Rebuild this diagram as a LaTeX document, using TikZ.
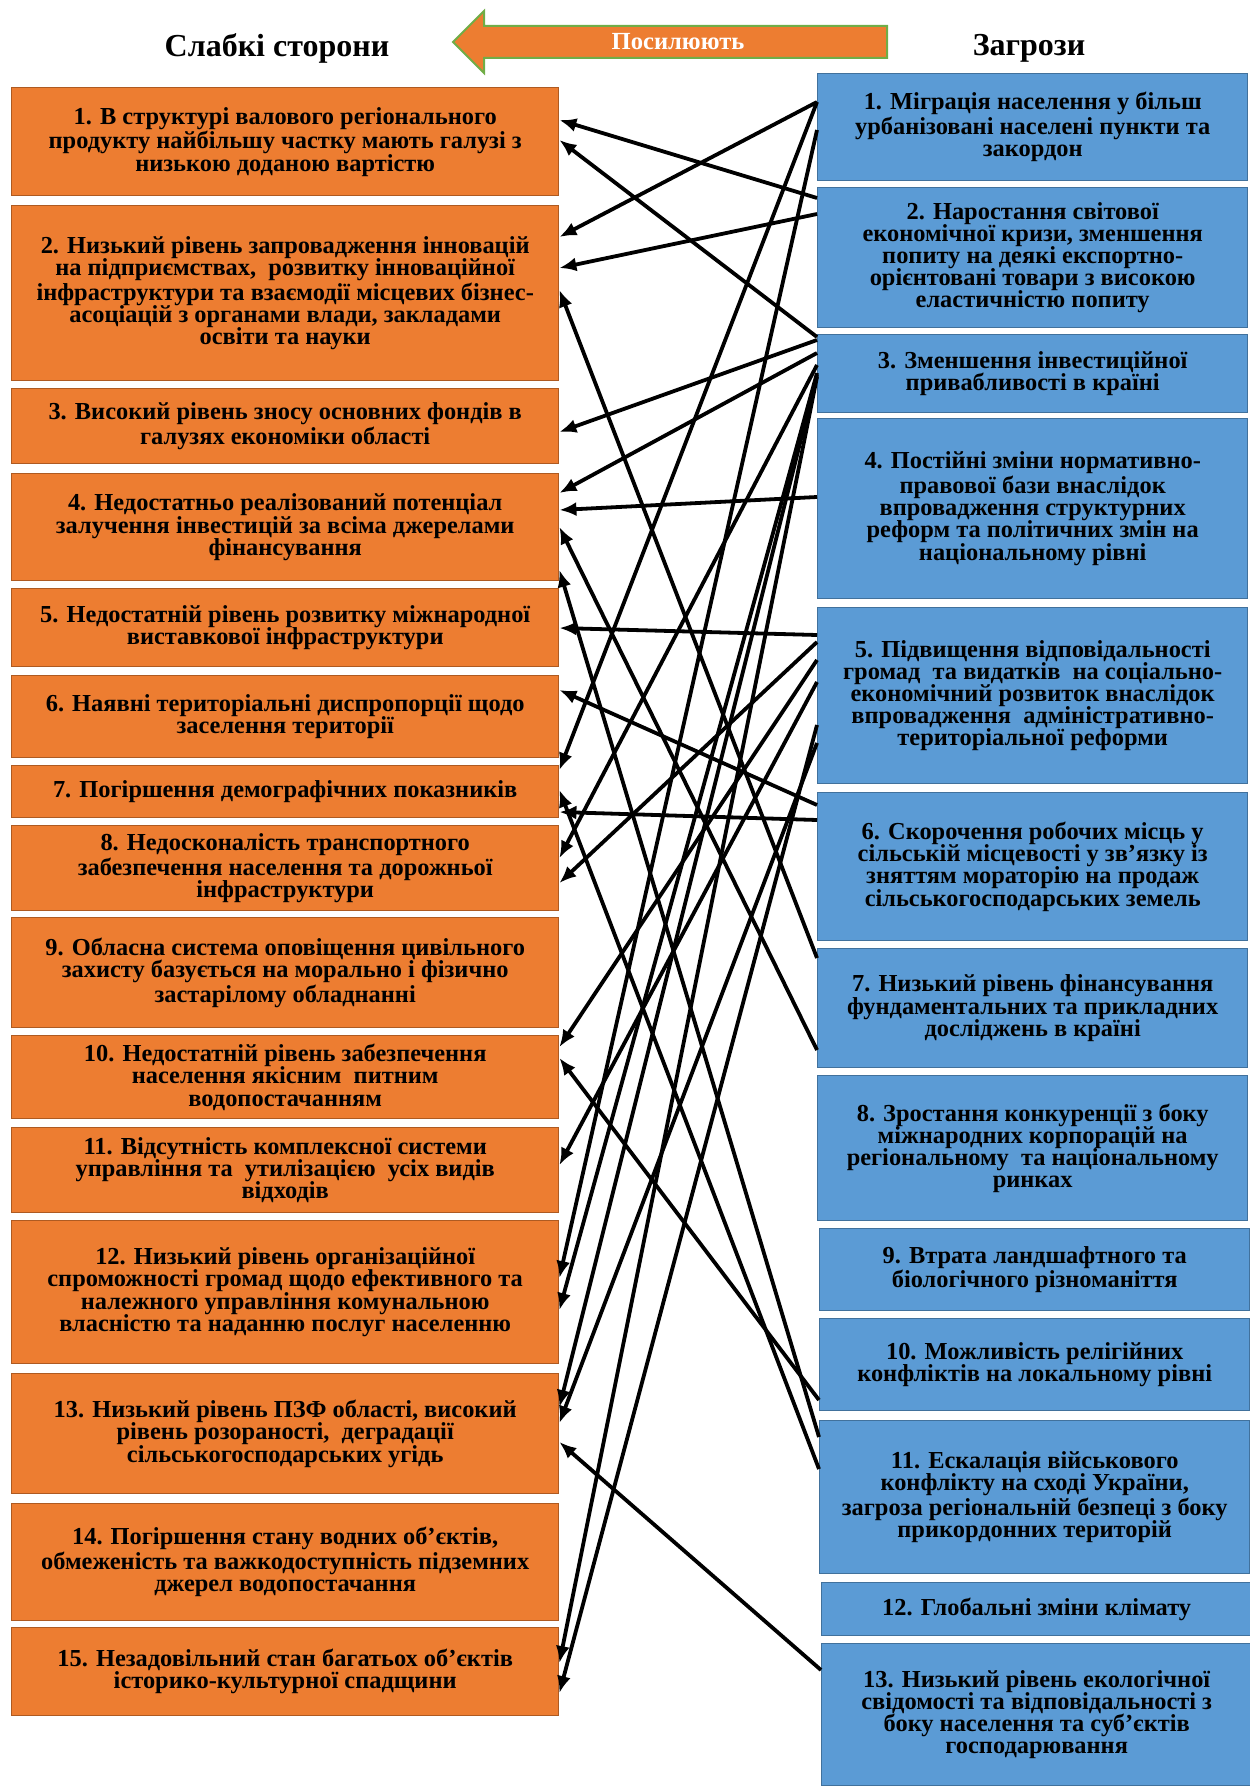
\documentclass[tikz,border=0pt]{standalone}
\usepackage{fontspec}
\setmainfont{Liberation Serif}
\usetikzlibrary{arrows.meta,calc}
\definecolor{orng}{HTML}{ED7D31}
\definecolor{orngdk}{HTML}{AE5A21}
\definecolor{blu}{HTML}{5B9BD5}
\definecolor{bludk}{HTML}{41719C}
\definecolor{grn}{HTML}{70AD47}
\newcommand\conn[4]{\draw[arr] (#1.west |- 0,#2) -- (#3.east |- 0,#4);}
\begin{document}
\begin{tikzpicture}[x=0.5pt,y=-0.5pt,
  box/.style={draw, line width=0.7pt, align=center, font=\fontsize{12.2}{11.1}\selectfont\bfseries, inner sep=0pt, anchor=north west},
  lbox/.style={box, fill=orng, draw=orngdk, minimum width=273.5pt},
  rbox/.style={box, fill=blu, draw=bludk, minimum width=215pt},
  arr/.style={line width=1.9pt, -{Latex[length=8.5pt,width=7pt]}},
  hdr/.style={font=\fontsize{16}{18}\selectfont\bfseries}]
\useasboundingbox (0,0) rectangle (1249,1787);
% header
\node[hdr] (hl) at (277,48) {Слабкі сторони};
\node[hdr] (hr) at (1029,48) {Загрози};
\draw[fill=orng, draw=grn, line width=1pt] (453,42) -- (484,11) -- (484,26) -- (887,26) -- (887,58) -- (484,58) -- (484,73) -- cycle;
\node[font=\fontsize{12.3}{14}\selectfont\bfseries, text=white] (posyl) at (678,42) {Посилюють};
% left boxes
\node[lbox, minimum height=54pt] (L1) at (11,87) {1. В структурі валового регіонального\\продукту найбільшу частку мають галузі з\\низькою доданою вартістю};
\node[lbox, minimum height=87.5pt] (L2) at (11,205) {2. Низький рівень запровадження інновацій\\на підприємствах,\ \ розвитку інноваційної\\інфраструктури та взаємодії місцевих бізнес-\\асоціацій з органами влади, закладами\\освіти та науки};
\node[lbox, minimum height=37.5pt] (L3) at (11,388) {3. Високий рівень зносу основних фондів в\\галузях економіки області};
\node[lbox, minimum height=53.5pt] (L4) at (11,473) {4. Недостатньо реалізований потенціал\\залучення інвестицій за всіма джерелами\\фінансування};
\node[lbox, minimum height=39pt] (L5) at (11,588) {5. Недостатній рівень розвитку міжнародної\\виставкової інфраструктури};
\node[lbox, minimum height=41pt] (L6) at (11,675) {6. Наявні територіальні диспропорції щодо\\заселення території};
\node[lbox, minimum height=26pt] (L7) at (11,765) {7. Погіршення демографічних показників};
\node[lbox, minimum height=42.5pt] (L8) at (11,825) {8. Недосконалість транспортного\\забезпечення населення та дорожньої\\інфраструктури};
\node[lbox, minimum height=55pt] (L9) at (11,917) {9. Обласна система оповіщення цивільного\\захисту базується на морально і фізично\\застарілому обладнанні};
\node[lbox, minimum height=41.5pt] (L10) at (11,1035) {10. Недостатній рівень забезпечення\\населення якісним\ \ питним\\водопостачанням};
\node[lbox, minimum height=42.5pt] (L11) at (11,1127) {11. Відсутність комплексної системи\\управління та\ \ утилізацією\ \ усіх видів\\відходів};
\node[lbox, minimum height=71.5pt] (L12) at (11,1220) {12. Низький рівень організаційної\\спроможності громад щодо ефективного та\\належного управління комунальною\\власністю та наданню послуг населенню};
\node[lbox, minimum height=60pt] (L13) at (11,1373) {13. Низький рівень ПЗФ області, високий\\рівень розораності,\ \ деградації\\сільськогосподарських угідь};
\node[lbox, minimum height=58.5pt] (L14) at (11,1503) {14. Погіршення стану водних об'єктів,\\обмеженість та важкодоступність підземних\\джерел водопостачання};
\node[lbox, minimum height=44pt] (L15) at (11,1627) {15. Незадовільний стан багатьох об'єктів\\історико-культурної спадщини};
% right boxes
\node[rbox, minimum height=53.5pt] (R1) at (817,73) {1. Міграція населення у більш\\урбанізовані населені пункти та\\закордон};
\node[rbox, minimum height=70pt] (R2) at (817,187) {2. Наростання світової\\економічної кризи, зменшення\\попиту на деякі експортно-\\орієнтовані товари з високою\\еластичністю попиту};
\node[rbox, minimum height=39pt] (R3) at (817,334) {3. Зменшення інвестиційної\\привабливості в країні};
\node[rbox, minimum height=90pt] (R4) at (817,418) {4. Постійні зміни нормативно-\\правової бази внаслідок\\впровадження структурних\\реформ та політичних змін на\\національному рівні};
\node[rbox, minimum height=88pt] (R5) at (817,607) {5. Підвищення відповідальності\\громад\ \ та видатків\ \ на соціально-\\економічний розвиток внаслідок\\впровадження\ \ адміністративно-\\територіальної реформи};
\node[rbox, minimum height=74pt] (R6) at (817,792) {6. Скорочення робочих місць у\\сільській місцевості у зв’язку із\\зняттям мораторію на продаж\\сільськогосподарських земель};
\node[rbox, minimum height=59.5pt] (R7) at (817,948) {7. Низький рівень фінансування\\фундаментальних та прикладних\\досліджень в країні};
\node[rbox, minimum height=72.5pt] (R8) at (817,1075) {8. Зростання конкуренції з боку\\міжнародних корпорацій на\\регіональному\ \ та національному\\ринках};
\node[rbox, minimum height=41pt] (R9) at (819,1228) {9. Втрата ландшафтного та\\біологічного різноманіття};
\node[rbox, minimum height=46pt] (R10) at (819,1318) {10. Можливість релігійних\\конфліктів на локальному рівні};
\node[rbox, minimum height=76.5pt] (R11) at (819,1420) {11. Ескалація військового\\конфлікту на сході України,\\загроза регіональній безпеці з боку\\прикордонних територій};
\node[rbox, minimum height=26.5pt] (R12) at (821,1582) {12. Глобальні зміни клімату};
\node[rbox, minimum height=71pt] (R13) at (821,1643) {13. Низький рівень екологічної\\свідомості та відповідальності з\\боку населення та суб’єктів\\господарювання};
% connectors
\conn{R1}{102}{L2}{237}
\conn{R1}{102}{L7}{770}
\conn{R1}{130}{L12}{1278}
\conn{R2}{198}{L1}{120}
\conn{R2}{214}{L2}{268}
\conn{R3}{337}{L1}{140}
\conn{R3}{340}{L3}{432}
\conn{R3}{353}{L4}{493}
\conn{R3}{365}{L8}{858}
\conn{R3}{373}{L12}{1310}
\conn{R3}{375}{L13}{1407}
\conn{R3}{377}{L15}{1663}
\conn{R4}{497}{L4}{510}
\conn{R5}{635}{L5}{628}
\conn{R5}{642}{L8}{883}
\conn{R5}{660}{L10}{1047}
\conn{R5}{682}{L11}{1165}
\conn{R5}{725}{L15}{1693}
\conn{R5}{743}{L13}{1423}
\conn{R6}{805}{L6}{690}
\conn{R6}{820}{L7}{812}
\conn{R7}{958}{L2}{290}
\conn{R7}{1050}{L4}{527}
\conn{R10}{1400}{L10}{1058}
\conn{R11}{1437}{L4}{570}
\conn{R11}{1469}{L7}{790}
\conn{R13}{1670}{L13}{1442}
\end{tikzpicture}
\end{document}
